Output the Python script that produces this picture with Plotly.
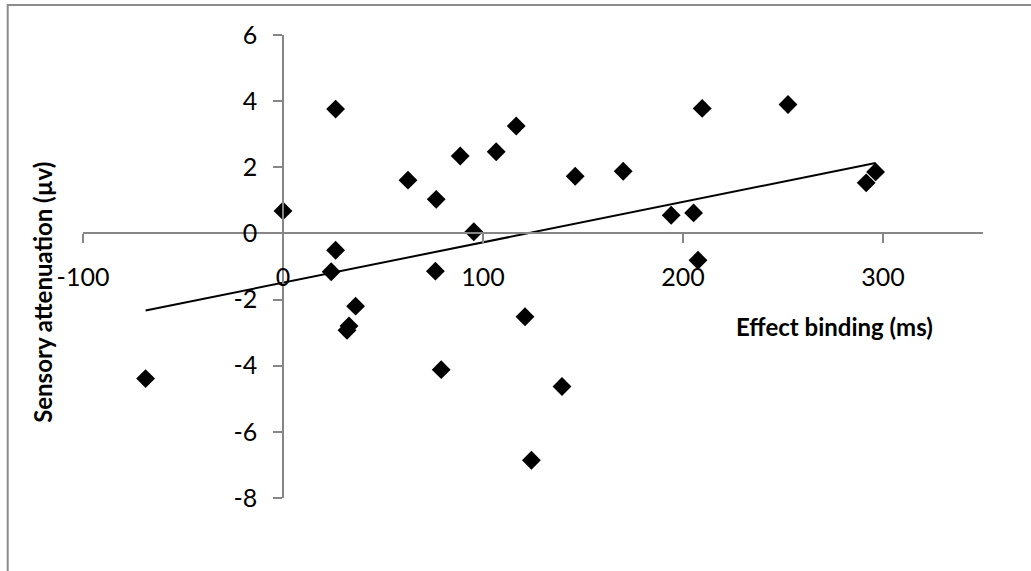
import numpy as np
import plotly.graph_objects as go

# Effect binding (ms) vs. sensory attenuation (µv), one point per participant
effect_binding = [-68.7, 0.0, 24.1, 26.3, 26.3, 32.0, 33.0, 36.3, 62.5, 76.2,
                  76.6, 79.1, 88.6, 95.4, 106.6, 116.6, 121.0, 124.2, 139.5, 146.1,
                  170.1, 194.1, 205.3, 207.5, 209.6, 252.5, 291.6, 296.3]
sensory_attenuation = [-4.39, 0.68, -1.16, 3.76, -0.51, -2.93, -2.80, -2.20, 1.61, -1.14,
                       1.03, -4.12, 2.34, 0.05, 2.47, 3.25, -2.52, -6.86, -4.63, 1.73,
                       1.88, 0.55, 0.62, -0.81, 3.78, 3.90, 1.53, 1.86]

x_ticks = [-100, 0, 100, 200, 300]
x_tick_text = ["-100", "0", "100", "200", "300"]
y_ticks = [-8, -6, -4, -2, 0, 2, 4, 6]
y_tick_text = ["-8", "-6", "-4", "-2", "0", "2", "4", "6"]

x_range = [-100, 350]
y_range = [-8, 6]

# Linear least-squares trend line over the span of the data
xs = np.array(effect_binding)
ys = np.array(sensory_attenuation)
slope, intercept = np.polyfit(xs, ys, 1)
trend_x = [xs.min(), xs.max()]
trend_y = [slope * v + intercept for v in trend_x]

FONT = "Lato, 'Open Sans', sans-serif"
AXIS_GREY = "#868686"

W, H = 1031, 571
L, R, T, B = 83.3, 47.6, 35.0, 73.3
pw, ph = W - L - R, H - T - B

fig = go.Figure()
fig.add_trace(go.Scatter(
    x=effect_binding, y=sensory_attenuation, mode="markers",
    marker=dict(symbol="diamond", size=14.5, color="black", line=dict(width=0)),
    showlegend=False, hoverinfo="x+y",
))
fig.add_trace(go.Scatter(
    x=trend_x, y=trend_y, mode="lines",
    line=dict(color="black", width=2),
    showlegend=False, hoverinfo="skip",
))

# axes cross at the origin
x_pos = (0 - y_range[0]) / (y_range[1] - y_range[0])
y_pos = (0 - x_range[0]) / (x_range[1] - x_range[0])

fig.update_layout(
    width=W, height=H,
    margin=dict(l=L, r=R, t=T, b=B, pad=0),
    paper_bgcolor="white", plot_bgcolor="white",
    font=dict(family=FONT, size=25, color="black"),
    xaxis=dict(
        range=x_range, tickvals=x_ticks, ticktext=x_tick_text,
        anchor="free", position=x_pos,
        showline=True, linecolor=AXIS_GREY, linewidth=1.5,
        ticks="outside", ticklen=9, tickwidth=1.5, tickcolor=AXIS_GREY,
        ticklabelstandoff=13,
        showgrid=False, zeroline=False,
    ),
    yaxis=dict(
        range=y_range, tickvals=y_ticks, ticktext=y_tick_text,
        anchor="free", position=y_pos,
        showline=True, linecolor=AXIS_GREY, linewidth=1.5,
        ticks="outside", ticklen=9, tickwidth=1.5, tickcolor=AXIS_GREY,
        ticklabelstandoff=11,
        showgrid=False, zeroline=False,
    ),
    annotations=[
        dict(text="<b>Effect binding (ms)</b>", xref="paper", yref="paper",
             x=(835 - L) / pw, y=1 - (326 - T) / ph, xanchor="center", yanchor="middle",
             showarrow=False, font=dict(family=FONT, size=24, color="black")),
        dict(text="<b>Sensory attenuation (µv)</b>", xref="paper", yref="paper",
             x=(42 - L) / pw, y=1 - (292 - T) / ph, xanchor="center", yanchor="middle",
             textangle=-90, showarrow=False, font=dict(family=FONT, size=24, color="black")),
    ],
    shapes=[
        # chart frame
        dict(type="rect", xref="paper", yref="paper",
             x0=(8 - L) / pw, x1=(1040 - L) / pw,
             y0=1 - (580 - T) / ph, y1=1 - (5 - T) / ph,
             line=dict(color="#8c8c8c", width=2), fillcolor="rgba(0,0,0,0)", layer="below"),
    ],
)

fig.write_html("out.html")
